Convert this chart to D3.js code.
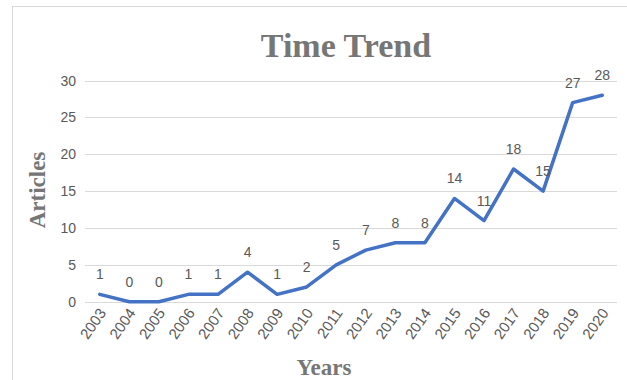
<!DOCTYPE html>
<meta charset="utf-8">
<head>
	<title>Time Trend</title>
	<script type="text/javascript" src="https://d3js.org/d3.v7.min.js"></script>
	<style>
		body { margin: 0; background: #fff; }
		.tick-label { font-family: "Liberation Sans", Arial, sans-serif; font-size: 14px; fill: #595959; }
		.data-label { font-family: "Liberation Sans", Arial, sans-serif; font-size: 14px; fill: #595959; }
		.axis-title { font-family: "Liberation Serif", "Times New Roman", serif; font-weight: bold; fill: #767676; }
	</style>
</head>
<body>
	<div id="chart"></div>
	<script>
		// data
		var years = ["2003", "2004", "2005", "2006", "2007", "2008", "2009", "2010", "2011",
			"2012", "2013", "2014", "2015", "2016", "2017", "2018", "2019", "2020"];
		var articles = [1, 0, 0, 1, 1, 4, 1, 2, 5, 7, 8, 8, 14, 11, 18, 15, 27, 28];
		var yTicks = [0, 5, 10, 15, 20, 25, 30];

		var width = 627;
		var height = 380;
		var svg = d3.select("#chart").append("svg")
			.attr("width", width)
			.attr("height", height);

		// chart area frame
		svg.append("rect")
			.attr("x", 12.5).attr("y", 6.5)
			.attr("width", 640).attr("height", 400)
			.style("fill", "#fff")
			.style("stroke", "#d9d9d9")
			.style("stroke-width", 1);

		var x = d3.scaleBand().domain(years).range([85, 617]);
		var y = d3.scaleLinear().domain([0, 30]).range([301.7, 80.5]);

		// gridlines
		svg.selectAll("line.grid")
			.data(yTicks)
			.enter()
			.append("line")
			.attr("class", "grid")
			.attr("x1", 85).attr("x2", 617)
			.attr("y1", function (d) { return Math.round(y(d)) + 0.5; })
			.attr("y2", function (d) { return Math.round(y(d)) + 0.5; })
			.style("stroke", "#d9d9d9")
			.style("stroke-width", 1);

		// y tick labels
		svg.selectAll("text.ytick")
			.data(yTicks)
			.enter()
			.append("text")
			.attr("class", "tick-label")
			.attr("x", 76)
			.attr("y", function (d) { return y(d) + 5; })
			.attr("text-anchor", "end")
			.text(function (d) { return d; });

		// x tick labels, rotated
		svg.selectAll("text.xtick")
			.data(years)
			.enter()
			.append("text")
			.attr("class", "tick-label")
			.attr("text-anchor", "end")
			.style("font-size", "15px")
			.attr("transform", function (d) {
				var cx = x(d) + x.bandwidth() / 2 + 7;
				return "translate(" + cx + ",313) rotate(-55)";
			})
			.text(function (d) { return d; });

		// the line
		var line = d3.line()
			.x(function (d, i) { return x(years[i]) + x.bandwidth() / 2; })
			.y(function (d) { return y(d); });

		svg.append("path")
			.datum(articles)
			.attr("d", line)
			.style("fill", "none")
			.style("stroke", "#4472c4")
			.style("stroke-width", 3.5)
			.style("stroke-linejoin", "round")
			.style("stroke-linecap", "round");

		// data labels
		svg.selectAll("text.dl")
			.data(articles)
			.enter()
			.append("text")
			.attr("class", "data-label")
			.attr("text-anchor", "middle")
			.attr("x", function (d, i) { return x(years[i]) + x.bandwidth() / 2; })
			.attr("y", function (d) { return y(d) - 15; })
			.text(function (d) { return d; });

		// titles
		svg.append("text")
			.attr("class", "axis-title")
			.attr("x", 346).attr("y", 57)
			.attr("text-anchor", "middle")
			.style("font-size", "34px")
			.text("Time Trend");

		svg.append("text")
			.attr("class", "axis-title")
			.attr("x", 324).attr("y", 375)
			.attr("text-anchor", "middle")
			.style("font-size", "23px")
			.text("Years");

		svg.append("text")
			.attr("class", "axis-title")
			.attr("text-anchor", "middle")
			.attr("transform", "translate(45,190) rotate(-90)")
			.style("font-size", "23px")
			.text("Articles");
	</script>
</body>
</html>
